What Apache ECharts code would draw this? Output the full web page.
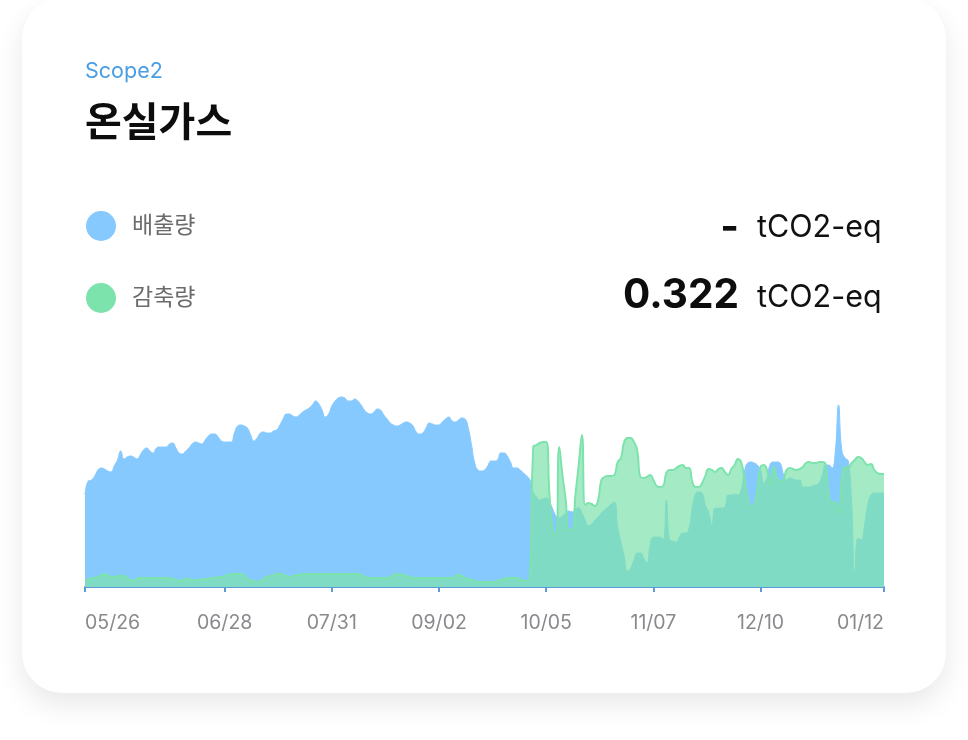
<!DOCTYPE html>
<html><head><meta charset="utf-8">
<script src="https://cdn.jsdelivr.net/npm/echarts@6/dist/echarts.min.js"></script>
<style>html,body{margin:0;padding:0;background:#fff;}#c{width:968px;height:740px;}</style>
</head><body><div id="c"></div>
<script>
// ---- data ----
const tickDays = [0, 43, 76, 109, 142, 175, 208, 246];
const tickLabels = ['05/26', '06/28', '07/31', '09/02', '10/05', '11/07', '12/10', '01/12'];
const seriesNames = ['배출량', '감축량'];
const totals = ['-', '0.322'];
const unitLabel = 'tCO2-eq';
const subtitle = 'Scope2';
const titleText = '온실가스';

const emission = [
  46, 53, 53.5, 55.5, 58.5, 59.5, 59, 58, 57.5, 60.5,
  63.5, 68, 64, 65, 65.5, 65, 64, 66, 68.5, 69.5,
  68, 67, 69.5, 70, 70, 70, 71.5, 72, 69.5, 67,
  66.5, 68, 69.5, 71.5, 72.5, 72, 71.5, 73.5, 75.5, 76.5,
  76.5, 75, 73, 72.5, 72.5, 72.5, 77, 80.5, 81, 80.5,
  79.5, 76, 73, 74.5, 77, 77.5, 77, 77, 78, 78.5,
  81, 84, 86.5, 86.5, 85.5, 85, 86, 87.5, 88.5, 89.5,
  91, 93, 91.5, 88.5, 85, 86.5, 90.5, 93, 94.5, 95,
  94.5, 93, 93, 94, 93, 91, 88.5, 87, 86.5, 87.5,
  89, 88.5, 86, 84, 82, 81, 80.5, 81, 82, 82.5,
  82, 80.5, 77.5, 76.5, 77, 79.5, 82, 81.5, 81, 81,
  82.5, 84, 85, 83, 82.5, 83.5, 84.5, 84, 79.5, 71,
  62, 58.5, 58, 58.5, 60.5, 63, 63, 63.5, 67, 67,
  65.5, 62.5, 59.5, 59.5, 58.5, 57, 55.5, 53.5, 47.5, 45,
  43.5, 44, 44.5, 42.5, 39, 35.5, 34.5, 35.5, 37, 38,
  37.5, 39, 39.5, 37, 33.5, 30.5, 31.5, 33.5, 35, 37,
  38.5, 40, 41.5, 42.5, 30, 22.5, 15.5, 8, 9.5, 13.5,
  17, 17, 14.5, 12, 21, 25, 25, 25, 23.5, 43.5,
  23.5, 23, 22.5, 25, 27, 27, 29.5, 40, 46.5, 47.5,
  47, 41, 37.5, 31, 39.5, 39.5, 39.5, 40, 46, 46,
  46.5, 46, 48.5, 57.5, 62, 62.5, 62, 61, 58.5, 52,
  55, 61.5, 62.5, 62.5, 62, 56.5, 53.5, 54.5, 54, 53.5,
  53.5, 50, 50, 50, 50.5, 51, 52, 56, 61, 61,
  59.5, 67.5, 91, 68.5, 64.5, 63, 43.5, 7, 24.5, 23.5,
  31, 41, 46, 47, 47, 47, 47
];

const reduction = [
  3, 3.5, 4.5, 4.5, 5, 6, 6.5, 6, 5, 5,
  5.5, 5.5, 5.5, 4.5, 3.5, 3, 4, 4.5, 4.5, 4.5,
  4.5, 4.5, 4.5, 4.5, 4.5, 4.5, 4.5, 4, 3.5, 3,
  3.5, 4, 4, 3, 3.5, 3.5, 4, 4, 4, 4.5,
  4.5, 5, 5, 5.5, 6, 6.5, 6.5, 6.5, 6.5, 6,
  4, 3.5, 3, 2.5, 3, 4, 5, 5.5, 6, 6.5,
  6.5, 6, 5.5, 5, 5.5, 6, 6, 6.5, 6.5, 6.5,
  6.5, 6.5, 6.5, 6.5, 6.5, 6.5, 6.5, 6.5, 6.5, 6.5,
  6.5, 6.5, 6.5, 6.5, 6.5, 6, 5, 4.5, 4.5, 4.5,
  4.5, 4.5, 4.5, 4.5, 5, 6, 6.5, 6.5, 6, 5.5,
  5, 4.5, 4.5, 4.5, 4.5, 4.5, 4.5, 4.5, 4.5, 4.5,
  4.5, 4.5, 4.5, 4.5, 5.5, 6, 5.5, 4.5, 4, 3.5,
  3, 2.5, 2.5, 2.5, 2.5, 2.5, 2.5, 3, 3.5, 4,
  4.5, 4.5, 4.5, 4.5, 4, 3, 3, 4, 70, 71,
  72, 72.5, 72.5, 46, 28.5, 26, 70, 56, 43.5, 28.5,
  28.5, 46, 61, 76, 41, 42, 41.5, 40.5, 43.5, 53.5,
  55, 55.5, 55.5, 56, 62.5, 64.5, 72.5, 74.5, 74.5, 72.5,
  68.5, 55, 54.5, 55, 56, 53.5, 50.5, 50, 50.5, 57,
  58.5, 58.5, 59.5, 60.5, 61, 59.5, 59.5, 52.5, 50, 50,
  52, 55.5, 59, 58.5, 57.5, 59, 59.5, 57.5, 56, 59,
  61, 64, 62.5, 54.5, 45, 40, 41, 48.5, 60, 61,
  58.5, 51, 60, 54.5, 52.5, 53.5, 58.5, 59.5, 59, 58.5,
  59, 60, 62, 62.5, 62, 62, 62.5, 62.5, 61.5, 46,
  42, 42.5, 37, 53.5, 60, 59.5, 62, 63.5, 65, 64.5,
  62.5, 61, 61.5, 58.5, 57, 56.5, 56.5
];

// ---- chart ----
const FONT = "Inter, 'Noto Sans CJK KR', sans-serif";
const BLUE = '#86C9FE';
const GREEN = '#7DE3AD';
const AXIS = '#5B9BD9';

function txt(x, y, text, size, weight, color, align) {
  return {
    type: 'text', x: x, y: y, z: 10,
    style: {
      text: text, fill: color,
      fontSize: size, fontWeight: weight, fontFamily: FONT,
      textAlign: align || 'left', align: align || 'left',
      textVerticalAlign: 'middle', verticalAlign: 'middle'
    }
  };
}

const chart = echarts.init(document.getElementById('c'), null, { renderer: 'canvas' });
chart.setOption({
  animation: false,
  backgroundColor: '#ffffff',
  graphic: [
    { type: 'rect', z: -10, shape: { x: 22, y: -2, width: 924, height: 695, r: 40 },
      style: { fill: '#ffffff', shadowBlur: 28, shadowOffsetY: 12, shadowColor: 'rgba(0,0,0,0.09)' } },
    txt(85, 72, subtitle, 21.5, 400, '#4A9DE3'),
    txt(85, 124, titleText, 40, 700, '#0d0d0d'),
    txt(739, 228, totals[0], 40, 700, '#0d0d0d', 'right'),
    txt(757, 228, unitLabel, 30.5, 400, '#111111'),
    txt(739, 296, totals[1], 40.5, 700, '#0d0d0d', 'right'),
    txt(757, 298, unitLabel, 30.5, 400, '#111111')
  ],
  legend: {
    orient: 'vertical', left: 86, top: 211, padding: 0,
    icon: 'circle', itemWidth: 30, itemHeight: 30, itemGap: 42,
    selectedMode: false,
    data: seriesNames,
    textStyle: { fontSize: 23, color: '#6b6b6b', fontFamily: FONT, padding: [0, 0, 0, 11] }
  },
  grid: { left: 85, right: 84, top: 387, bottom: 153 },
  xAxis: {
    type: 'value', min: 0, max: 246,
    splitLine: { show: false },
    axisLine: { show: true, lineStyle: { color: AXIS, width: 2 } },
    axisTick: { show: true, customValues: tickDays, length: 5, lineStyle: { color: AXIS, width: 2 } },
    axisLabel: {
      customValues: tickDays,
      formatter: function (v) { const k = tickDays.indexOf(v); return k >= 0 ? tickLabels[k] : ''; },
      color: '#8a8a8e', fontSize: 19.5, fontFamily: FONT, margin: 26,
      alignMinLabel: 'left', alignMaxLabel: 'right'
    }
  },
  yAxis: { type: 'value', min: 0, max: 100, show: false },
  series: [
    {
      name: seriesNames[0], type: 'line', smooth: 0.5, showSymbol: false, symbol: 'none',
      data: emission.map(function (v, i) { return [i, v]; }),
      color: BLUE, itemStyle: { color: BLUE },
      lineStyle: { color: BLUE, width: 1 },
      areaStyle: { color: BLUE, opacity: 1 }, z: 2
    },
    {
      name: seriesNames[1], type: 'line', smooth: 0.5, showSymbol: false, symbol: 'none',
      data: reduction.map(function (v, i) { return [i, v]; }),
      color: GREEN, itemStyle: { color: GREEN },
      lineStyle: { color: GREEN, width: 2 },
      areaStyle: { color: GREEN, opacity: 0.7 }, z: 3
    }
  ]
});
</script>
</body></html>
